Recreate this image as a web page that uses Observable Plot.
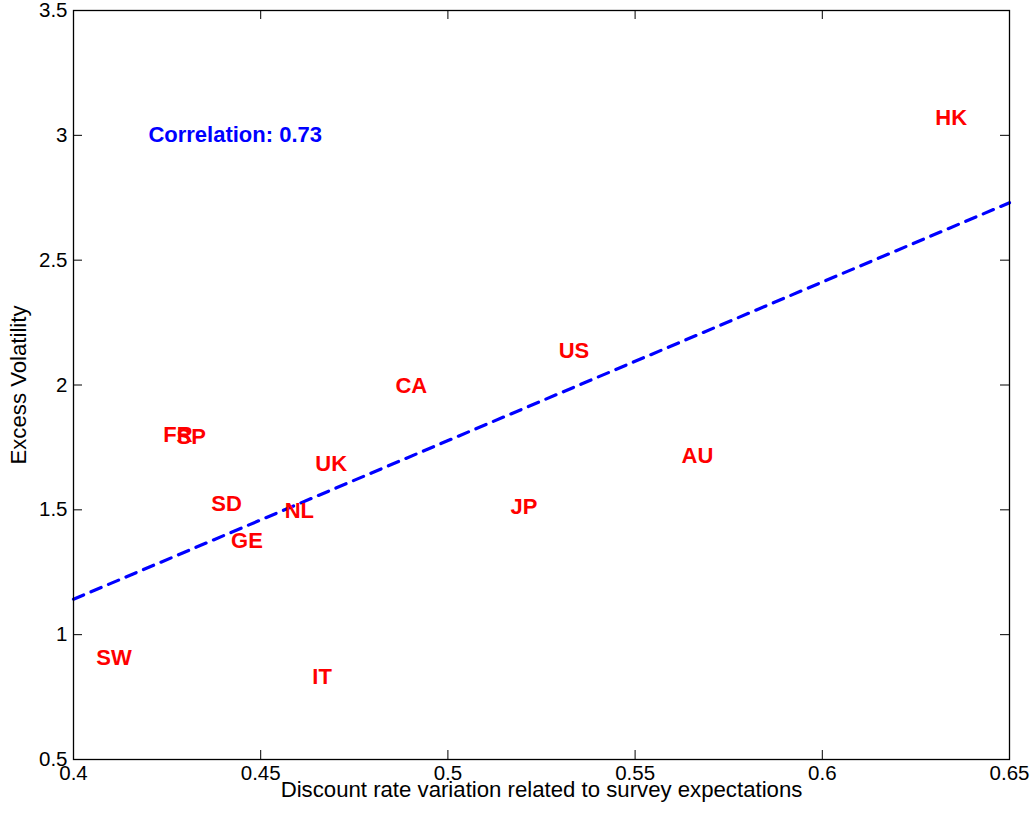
<!DOCTYPE html>
<html>
<head>
<meta charset="utf-8">
<script src="https://cdn.jsdelivr.net/npm/d3@7"></script>
<script src="https://cdn.jsdelivr.net/npm/@observablehq/plot@0.6"></script>
<style>
  html, body { margin: 0; padding: 0; background: #fff; }
  #chart svg { display: block; }
</style>
</head>
<body>
<div id="chart"></div>
<script>
// Country labels and their positions (discount-rate variation, excess volatility)
const countries = ["HK", "US", "CA", "AU", "JP", "FR", "SP", "UK", "SD", "NL", "GE", "SW", "IT"];
const discountVar = [0.6302, 0.5296, 0.4860, 0.5624, 0.5167, 0.4240, 0.4275, 0.4646, 0.4368, 0.4564, 0.4421, 0.4061, 0.4638];
const excessVol   = [3.069, 2.137, 1.996, 1.715, 1.510, 1.799, 1.792, 1.682, 1.523, 1.495, 1.376, 0.905, 0.831];

// Fitted line
const fitX = [0.40, 0.65];
const fitY = [1.142, 2.730];

// Annotation
const corrText = "Correlation: 0.73";
const corrX = 0.42;
const corrY = 3.0;

// Axes
const xTicks = [0.4, 0.45, 0.5, 0.55, 0.6, 0.65];
const yTicks = [0.5, 1, 1.5, 2, 2.5, 3, 3.5];
const xLabel = "Discount rate variation related to survey expectations";
const yLabel = "Excess Volatility";

const points = countries.map((c, i) => ({name: c, x: discountVar[i], y: excessVol[i]}));
const fit = fitX.map((x, i) => ({x, y: fitY[i]}));

const font = "'Liberation Sans', Arial, Helvetica, sans-serif";
const W = 1036, H = 819;
const mL = 73, mR = 27, mT = 10, mB = 60;
const fw = W - mL - mR, fh = H - mT - mB;
const tk = 9;

const chart = Plot.plot({
  width: W,
  height: H,
  marginLeft: mL,
  marginRight: mR,
  marginTop: mT,
  marginBottom: mB,
  style: {fontFamily: font, background: "#fff", color: "#000"},
  x: {domain: [0.4, 0.65]},
  y: {domain: [0.5, 3.5]},
  marks: [
    // inward ticks on all four sides
    Plot.ruleX(xTicks, {x: d => d, insetTop: fh - tk, stroke: "#000", strokeWidth: 1}),
    Plot.ruleX(xTicks, {x: d => d, insetBottom: fh - tk, stroke: "#000", strokeWidth: 1}),
    Plot.ruleY(yTicks, {y: d => d, insetRight: fw - tk, stroke: "#000", strokeWidth: 1}),
    Plot.ruleY(yTicks, {y: d => d, insetLeft: fw - tk, stroke: "#000", strokeWidth: 1}),
    Plot.axisX(xTicks, {anchor: "bottom", tickSize: 0, tickPadding: 6, fontSize: 20.5, label: null, tickFormat: d => `${d}`}),
    Plot.axisY(yTicks, {anchor: "left", tickSize: 0, tickPadding: 6, fontSize: 20.5, label: null, tickFormat: d => `${d}`}),
    Plot.text([xLabel], {frameAnchor: "bottom", dy: 30, text: d => d, fontSize: 22.2, fill: "#000", textAnchor: "middle", lineAnchor: "middle"}),
    Plot.text([yLabel], {frameAnchor: "left", dx: -55, rotate: -90, text: d => d, fontSize: 22.2, fill: "#000", textAnchor: "middle", lineAnchor: "middle"}),
    Plot.line(fit, {x: "x", y: "y", stroke: "#0000ff", strokeWidth: 3.2, strokeDasharray: "11,8"}),
    Plot.text(points, {x: "x", y: "y", text: "name", textAnchor: "start", lineAnchor: "middle", fill: "#ff0000", fontWeight: "bold", fontSize: 22}),
    Plot.text([corrText], {x: () => corrX, y: () => corrY, text: d => d, textAnchor: "start", lineAnchor: "middle", fill: "#0000ff", fontWeight: "bold", fontSize: 22}),
    Plot.frame({stroke: "#000", strokeWidth: 1.3})
  ]
});

document.getElementById("chart").appendChild(chart);
</script>
</body>
</html>
